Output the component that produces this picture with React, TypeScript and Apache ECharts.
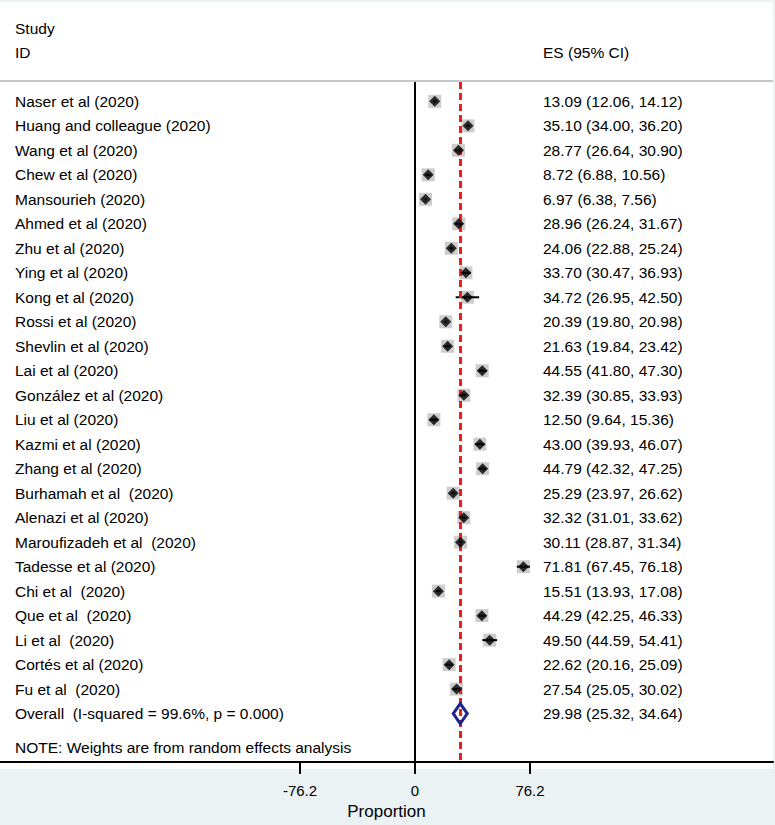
import React, { useEffect, useRef } from "react";
import * as echarts from "echarts";

const studies = [
  "Naser et al (2020)",
  "Huang and colleague (2020)",
  "Wang et al (2020)",
  "Chew et al (2020)",
  "Mansourieh (2020)",
  "Ahmed et al (2020)",
  "Zhu et al (2020)",
  "Ying et al (2020)",
  "Kong et al (2020)",
  "Rossi et al (2020)",
  "Shevlin et al (2020)",
  "Lai et al (2020)",
  "González et al (2020)",
  "Liu et al (2020)",
  "Kazmi et al (2020)",
  "Zhang et al (2020)",
  "Burhamah et al  (2020)",
  "Alenazi et al (2020)",
  "Maroufizadeh et al  (2020)",
  "Tadesse et al (2020)",
  "Chi et al  (2020)",
  "Que et al  (2020)",
  "Li et al  (2020)",
  "Cortés et al (2020)",
  "Fu et al  (2020)",
];
const esValues = [13.09, 35.1, 28.77, 8.72, 6.97, 28.96, 24.06, 33.7, 34.72, 20.39, 21.63, 44.55, 32.39, 12.5, 43.0, 44.79, 25.29, 32.32, 30.11, 71.81, 15.51, 44.29, 49.5, 22.62, 27.54];
const ciLower = [12.06, 34.0, 26.64, 6.88, 6.38, 26.24, 22.88, 30.47, 26.95, 19.8, 19.84, 41.8, 30.85, 9.64, 39.93, 42.32, 23.97, 31.01, 28.87, 67.45, 13.93, 42.25, 44.59, 20.16, 25.05];
const ciUpper = [14.12, 36.2, 30.9, 10.56, 7.56, 31.67, 25.24, 36.93, 42.5, 20.98, 23.42, 47.3, 33.93, 15.36, 46.07, 47.25, 26.62, 33.62, 31.34, 76.18, 17.08, 46.33, 54.41, 25.09, 30.02];
const overallLabel = "Overall  (I-squared = 99.6%, p = 0.000)";
const overall = [29.98, 25.32, 34.64];
const tickValues = [-76.2, 0, 76.2];

const FONT = '"Liberation Sans", Arial, Helvetica, sans-serif';
const fmt = (v: number) => v.toFixed(2);

export default function App() {
  const ref = useRef<HTMLDivElement>(null);
  useEffect(() => {
    if (!ref.current) return;
    const chart = echarts.init(ref.current, null, { renderer: "svg" });
    const n = studies.length;
    const rows = studies.map((_, i) => i + 1);
    const overallRow = n + 1;
    const labelRows = [...studies, overallLabel];
    const labelTexts = [
      ...esValues.map((v, i) => `${fmt(v)} (${fmt(ciLower[i])}, ${fmt(ciUpper[i])})`),
      `${fmt(overall[0])} (${fmt(overall[1])}, ${fmt(overall[2])})`,
    ];

    const option: any = {
      animation: false,
      backgroundColor: "#eaf2f3",
      textStyle: { fontFamily: FONT },
      grid: { left: 0, top: 82, width: 773, height: 687, containLabel: false },
      xAxis: {
        type: "value",
        min: -274.98,
        max: 237.21,
        splitLine: { show: false },
        axisLine: { show: true, onZero: false, lineStyle: { color: "#000", width: 2 } },
        axisTick: { show: true, customValues: tickValues, length: 12, inside: false, lineStyle: { color: "#000", width: 2 } },
        axisLabel: { show: true, customValues: tickValues, margin: 21, fontSize: 15, color: "#000", fontFamily: FONT },
        name: "Proportion",
        nameLocation: "middle",
        nameGap: 35,
        nameTextStyle: { fontSize: 17, color: "#000", fontFamily: FONT },
      },
      yAxis: {
        type: "value",
        inverse: true,
        min: 0.21,
        max: 27.98,
        show: false,
      },
      graphic: [
        { type: "rect", z: -10, shape: { x: 0, y: 2, width: 773, height: 767 }, style: { fill: "#ffffff" }, silent: true },
        { type: "line", z: -5, shape: { x1: 0, y1: 81, x2: 773, y2: 81 }, style: { stroke: "#c8c8c8", lineWidth: 2 } },
        { type: "text", x: 15, y: 28, style: { text: "Study", fontSize: 15.5, fontFamily: FONT, fill: "#000", verticalAlign: "middle" } },
        { type: "text", x: 15, y: 52, style: { text: "ID", fontSize: 15.5, fontFamily: FONT, fill: "#000", verticalAlign: "middle" } },
        { type: "text", x: 543, y: 52, style: { text: "ES (95% CI)", fontSize: 15.5, fontFamily: FONT, fill: "#000", verticalAlign: "middle" } },
        { type: "text", x: 15, y: 747, style: { text: "NOTE: Weights are from random effects analysis", fontSize: 15.5, fontFamily: FONT, fill: "#000", verticalAlign: "middle" } },
      ],
      series: [
        {
          name: "weights",
          type: "scatter",
          symbol: "rect",
          symbolSize: 13,
          itemStyle: { color: "#c0c0c0" },
          data: esValues.map((v, i) => [v, rows[i]]),
          z: 2,
          markLine: {
            silent: true,
            symbol: "none",
            label: { show: false },
            data: [{ xAxis: 0, lineStyle: { color: "#000", width: 2, type: "solid" } }],
          },
        },
        {
          name: "pooled",
          type: "scatter",
          symbolSize: 0,
          data: [[overall[0], overallRow]],
          z: 3,
          markLine: {
            silent: true,
            symbol: "none",
            label: { show: false },
            data: [{ xAxis: overall[0], lineStyle: { color: "#ee1c1c", width: 3, type: [7, 4] } }],
          },
        },
        {
          name: "ci",
          type: "custom",
          z: 4,
          renderItem: (params: any, api: any) => {
            const a = api.coord([api.value(0), api.value(2)]);
            const b = api.coord([api.value(1), api.value(2)]);
            return {
              type: "line",
              shape: { x1: a[0], y1: a[1], x2: b[0], y2: b[1] },
              style: { stroke: "#000", lineWidth: 2 },
            };
          },
          data: ciLower.map((lo, i) => [lo, ciUpper[i], rows[i]]),
        },
        {
          name: "estimates",
          type: "scatter",
          symbol: "diamond",
          symbolSize: 11,
          itemStyle: { color: "#000" },
          z: 5,
          data: esValues.map((v, i) => [v, rows[i]]),
        },
        {
          name: "overall",
          type: "custom",
          z: 6,
          renderItem: (params: any, api: any) => {
            const c = api.coord([api.value(0), api.value(3)]);
            const l = api.coord([api.value(1), api.value(3)]);
            const r = api.coord([api.value(2), api.value(3)]);
            const h = 10;
            return {
              type: "polygon",
              shape: { points: [[l[0], c[1]], [c[0], c[1] - h], [r[0], c[1]], [c[0], c[1] + h]] },
              style: { fill: "none", stroke: "#1a248c", lineWidth: 3 },
            };
          },
          data: [[overall[0], overall[1], overall[2], overallRow]],
        },
        {
          name: "labels",
          type: "custom",
          z: 7,
          renderItem: (params: any, api: any) => {
            const idx = params.dataIndex;
            const p = api.coord([0, api.value(1)]);
            return {
              type: "group",
              children: [
                { type: "text", x: 15, y: p[1], style: { text: labelRows[idx], fontSize: 15.5, fontFamily: FONT, fill: "#000", verticalAlign: "middle", align: "left" } },
                { type: "text", x: 543, y: p[1], style: { text: labelTexts[idx], fontSize: 15.5, fontFamily: FONT, fill: "#000", verticalAlign: "middle", align: "left" } },
              ],
            };
          },
          data: labelRows.map((_, i) => [0, i + 1]),
        },
      ],
    };
    chart.setOption(option);
    return () => chart.dispose();
  }, []);
  return <div ref={ref} style={{ position: "absolute", left: 0, top: 0, width: 775, height: 825 }} />;
}
